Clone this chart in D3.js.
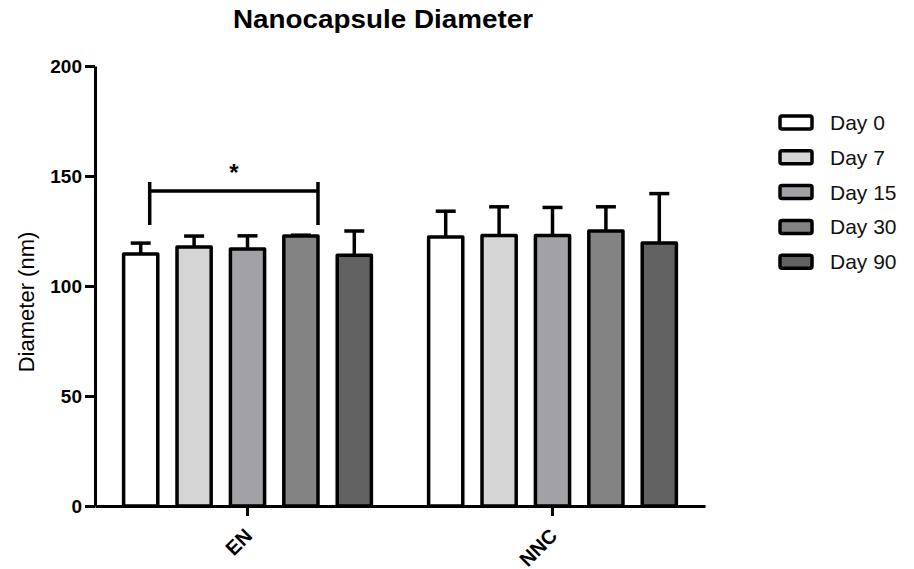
<!DOCTYPE html>
<html>
<head>
<meta charset="utf-8">
<script src="https://cdn.jsdelivr.net/npm/d3@7"></script>
<style>
    html, body { margin: 0; padding: 0; background: #fff; }
    svg { display: block; font-family: Arial, "Liberation Sans", sans-serif; }
</style>
</head>
<body>
<div id="chart"></div>
<script>
// Data
const groups = ['EN', 'NNC'];
const days = ['Day 0', 'Day 7', 'Day 15', 'Day 30', 'Day 90'];
const enMeans = [114.5, 117.7, 116.8, 122.7, 114.0];
const enSd = [5.0, 5.0, 6.0, 0.4, 11.0];
const nncMeans = [122.3, 123.0, 123.0, 125.0, 119.5];
const nncSd = [11.7, 13.0, 12.7, 11.0, 22.5];
const yTicks = [0, 50, 100, 150, 200];
const dayColors = ['#ffffff', '#d5d5d5', '#a2a2a6', '#838383', '#626262'];

const rows = [];
groups.forEach((g, gi) => {
    const means = gi === 0 ? enMeans : nncMeans;
    const sds = gi === 0 ? enSd : nncSd;
    days.forEach((d, di) => rows.push({ group: g, day: d, mean: means[di], sd: sds[di] }));
});

const width = 914, height = 569;

const svg = d3.select('#chart')
    .append('svg')
    .attr('width', width)
    .attr('height', height);

// Scales
const x0 = d3.scaleBand()
    .domain(groups)
    .range([95, 705])
    .paddingInner(0.1246)
    .paddingOuter(0.0623);

const x1 = d3.scaleBand()
    .domain(days)
    .range([0, x0.bandwidth()])
    .paddingInner(0.36)
    .paddingOuter(0.18);

const y = d3.scaleLinear()
    .domain([0, 200])
    .range([506, 66]);

const color = d3.scaleOrdinal().domain(days).range(dayColors);

// Title
svg.append('text')
    .attr('x', 383)
    .attr('y', 28)
    .attr('text-anchor', 'middle')
    .attr('font-size', 26)
    .attr('font-weight', 'bold')
    .attr('textLength', 300)
    .attr('lengthAdjust', 'spacingAndGlyphs')
    .text('Nanocapsule Diameter');

// Error bars (drawn under the bars so only the upper half shows)
const err = svg.append('g')
    .attr('stroke', '#000')
    .attr('stroke-width', 3.5)
    .selectAll('g')
    .data(rows)
    .join('g')
    .attr('transform', d => `translate(${x0(d.group) + x1(d.day) + x1.bandwidth() / 2},0)`);

err.append('line')
    .attr('y1', d => y(d.mean))
    .attr('y2', d => y(d.mean + d.sd));

err.append('line')
    .attr('x1', -10)
    .attr('x2', 10)
    .attr('y1', d => y(d.mean + d.sd))
    .attr('y2', d => y(d.mean + d.sd));

// Bars
svg.append('g')
    .selectAll('rect')
    .data(rows)
    .join('rect')
    .attr('x', d => x0(d.group) + x1(d.day))
    .attr('y', d => y(d.mean))
    .attr('width', x1.bandwidth())
    .attr('height', d => y(0) - y(d.mean))
    .attr('fill', d => color(d.day))
    .attr('stroke', '#000')
    .attr('stroke-width', 3.5)
    .attr('stroke-linejoin', 'round');

// Y axis
const yAxis = svg.append('g')
    .attr('transform', 'translate(95,0)')
    .call(d3.axisLeft(y).tickValues(yTicks).tickSize(10).tickPadding(3).tickSizeOuter(0));

yAxis.select('.domain').attr('stroke-width', 3);
yAxis.selectAll('.tick line').attr('stroke-width', 3);
yAxis.selectAll('.tick text')
    .attr('font-size', 19)
    .attr('font-weight', 'bold')
    .attr('font-family', 'Arial, "Liberation Sans", sans-serif')
    .attr('fill', '#000');

// X axis
const xAxis = svg.append('g')
    .attr('transform', `translate(0,${y(0)})`)
    .call(d3.axisBottom(x0).tickSize(10).tickSizeOuter(0).tickFormat(''));

xAxis.select('.domain').attr('stroke-width', 3);
xAxis.selectAll('.tick line').attr('stroke-width', 3);

svg.append('g')
    .selectAll('text')
    .data(groups)
    .join('text')
    .attr('transform', d => `translate(${x0(d) + x0.bandwidth() / 2 + 6},${y(0) + 31}) rotate(-45)`)
    .attr('text-anchor', 'end')
    .attr('font-size', 20)
    .attr('font-weight', 'bold')
    .text(d => d);

// Y axis label
svg.append('text')
    .attr('transform', 'translate(34,302) rotate(-90)')
    .attr('text-anchor', 'middle')
    .attr('font-size', 22)
    .text('Diameter (nm)');

// Significance bracket between EN Day 0 and Day 30
const bx1 = x0('EN') + x1('Day 0') + x1.bandwidth() / 2 + 9;
const bx2 = x0('EN') + x1('Day 30') + x1.bandwidth();
const bracket = svg.append('g')
    .attr('stroke', '#000')
    .attr('stroke-width', 3.5)
    .attr('fill', 'none');

bracket.append('path')
    .attr('d', `M${bx1},${y(147.3)}V${y(127.7)}M${bx2},${y(147.3)}V${y(127.7)}M${bx1},${y(143.2)}H${bx2}`);

svg.append('text')
    .attr('x', (bx1 + bx2) / 2)
    .attr('y', y(143.2) - 10)
    .attr('text-anchor', 'middle')
    .attr('font-size', 24)
    .attr('font-weight', 'bold')
    .text('*');

// Legend
const legend = svg.append('g')
    .selectAll('g')
    .data(days)
    .join('g')
    .attr('transform', (d, i) => `translate(780,${122.5 + i * 34.8})`);

legend.append('rect')
    .attr('x', 0)
    .attr('y', -6.5)
    .attr('width', 32)
    .attr('height', 13)
    .attr('rx', 2)
    .attr('fill', d => color(d))
    .attr('stroke', '#000')
    .attr('stroke-width', 3.5);

legend.append('text')
    .attr('x', 50)
    .attr('y', 7.5)
    .attr('font-size', 21)
    .attr('fill', '#111')
    .text(d => d);
</script>
</body>
</html>
